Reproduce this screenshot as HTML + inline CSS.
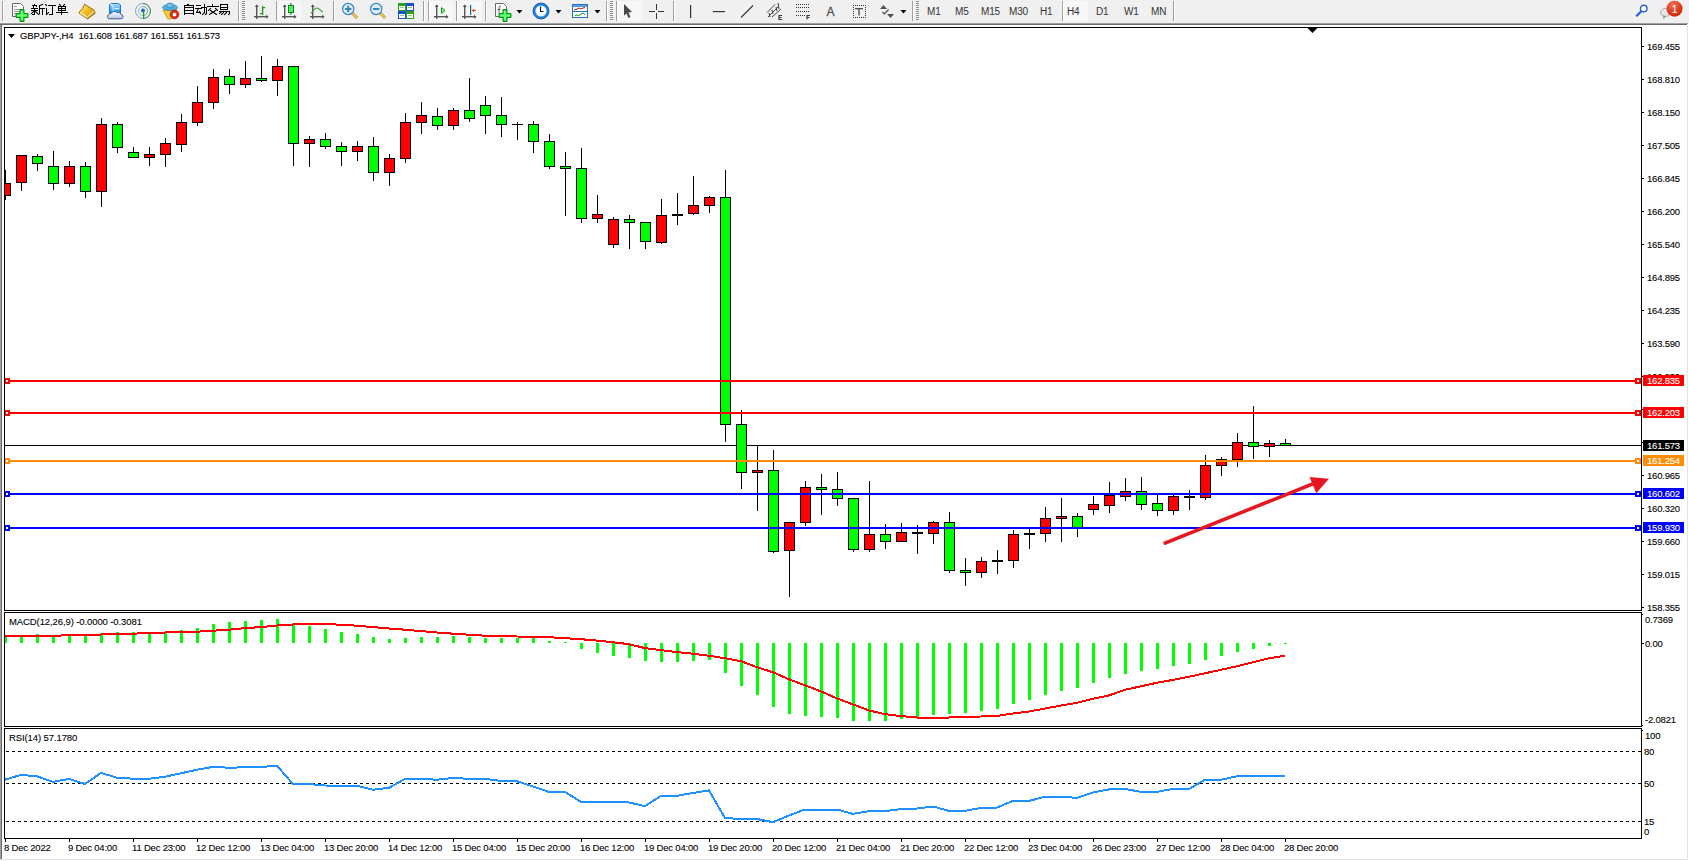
<!DOCTYPE html>
<html><head><meta charset="utf-8"><style>
html,body{margin:0;padding:0;background:#fff;}
body{width:1689px;height:861px;overflow:hidden;position:relative;font-family:"Liberation Sans",sans-serif;}
svg{position:absolute;left:0;top:0;}
svg text{font-family:"Liberation Sans",sans-serif;}
</style></head><body>
<svg width="1689" height="861" viewBox="0 0 1689 861">
<g shape-rendering="crispEdges">
<rect x="0" y="0" width="1689" height="23" fill="#f0f0f0"/>
<rect x="0" y="23" width="1688" height="1" fill="#a0a0a0"/>
<rect x="0" y="24" width="1687" height="1" fill="#696969"/>
<rect x="0" y="25" width="1" height="834" fill="#a0a0a0"/>
<rect x="1" y="25" width="1" height="834" fill="#696969"/>
<rect x="1687" y="25" width="1" height="835" fill="#e3e3e3"/>
<rect x="0" y="859" width="1688" height="1" fill="#e3e3e3"/>
</g>
<g>
<rect x="2" y="1" width="1" height="20" fill="#a0a0a0"/><rect x="3" y="1" width="1" height="20" fill="#ffffff"/>
<path d="M12.5,3.5 h8 l3,3 v10 h-11 z" fill="#fff" stroke="#6a6a6a" stroke-width="1"/>
<rect x="14" y="6" width="3" height="1" fill="#999"/><rect x="14" y="9" width="6" height="1" fill="#999"/><rect x="14" y="11" width="6" height="1" fill="#999"/><rect x="14" y="13" width="3" height="1" fill="#999"/>
<path d="M20,9.5 h4 v4 h4 v4 h-4 v4 h-4 v-4 h-4 v-4 h4 z" fill="#22dd33" stroke="#0a8a1a" stroke-width="1"/>
<rect x="21" y="11" width="2" height="9" fill="#66ff77"/><rect x="17" y="14.5" width="10" height="2" fill="#66ff77"/>
<rect x="34.0" y="4.0" width="1" height="1.0" fill="#000"/><rect x="32.0" y="5.0" width="5.0" height="1" fill="#000"/><rect x="33.0" y="6.0" width="1" height="2.0" fill="#000"/><rect x="36.0" y="6.0" width="1" height="1.0" fill="#000"/><rect x="31.0" y="8.0" width="7.0" height="1" fill="#000"/><rect x="31.0" y="10.0" width="7.0" height="1" fill="#000"/><rect x="34.0" y="8.0" width="1" height="7.0" fill="#000"/><line x1="33.5" y1="11.5" x2="31.5" y2="13.5" stroke="#000" stroke-width="1.1" stroke-linecap="square"/><line x1="35.5" y1="11.5" x2="37.5" y2="13.5" stroke="#000" stroke-width="1.1" stroke-linecap="square"/><rect x="32.0" y="14.0" width="2.0" height="1" fill="#000"/><line x1="42.5" y1="4.5" x2="39.5" y2="5.5" stroke="#000" stroke-width="1.1" stroke-linecap="square"/><rect x="39.0" y="5.0" width="1" height="9.0" fill="#000"/><line x1="39.5" y1="13.5" x2="38.5" y2="14.5" stroke="#000" stroke-width="1.1" stroke-linecap="square"/><rect x="39.0" y="8.0" width="6.0" height="1" fill="#000"/><rect x="42.0" y="8.0" width="1" height="7.0" fill="#000"/>
<line x1="45.5" y1="4.5" x2="46.5" y2="5.5" stroke="#000" stroke-width="1.1" stroke-linecap="square"/><rect x="46.0" y="8.0" width="1" height="6.0" fill="#000"/><line x1="46.5" y1="14.5" x2="48.5" y2="12.5" stroke="#000" stroke-width="1.1" stroke-linecap="square"/><rect x="48.0" y="5.0" width="8.0" height="1" fill="#000"/><rect x="52.0" y="5.0" width="1" height="10.0" fill="#000"/><rect x="49.0" y="14.0" width="3.0" height="1" fill="#000"/>
<line x1="59.5" y1="4.5" x2="60.5" y2="5.5" stroke="#000" stroke-width="1.1" stroke-linecap="square"/><line x1="64.5" y1="4.5" x2="63.5" y2="5.5" stroke="#000" stroke-width="1.1" stroke-linecap="square"/><rect x="58.0" y="6.0" width="8.0" height="1" fill="#000"/><rect x="58.0" y="8.0" width="8.0" height="1" fill="#000"/><rect x="58.0" y="10.0" width="8.0" height="1" fill="#000"/><rect x="58.0" y="6.0" width="1" height="5.0" fill="#000"/><rect x="65.0" y="6.0" width="1" height="5.0" fill="#000"/><rect x="61.0" y="6.0" width="1" height="9.0" fill="#000"/><rect x="56.0" y="12.0" width="12.0" height="1" fill="#000"/>
<defs><linearGradient id="bkg" x1="0" y1="0" x2="1" y2="1"><stop offset="0" stop-color="#fff2a0"/><stop offset="0.45" stop-color="#f0c020"/><stop offset="1" stop-color="#d09010"/></linearGradient><linearGradient id="clg" x1="0" y1="0" x2="0" y2="1"><stop offset="0" stop-color="#ffffff"/><stop offset="1" stop-color="#b8c4dc"/></linearGradient><linearGradient id="bdg" x1="0" y1="0" x2="0" y2="1"><stop offset="0" stop-color="#b0d8ff"/><stop offset="1" stop-color="#0a90f0"/></linearGradient></defs>
<path d="M84.6,4.2 L94.3,10.4 L95.2,13.2 L87.6,18.9 L79,13.1 L79.6,11.6 Q82.8,9.5 84.6,4.2 Z" fill="url(#bkg)" stroke="#9a6408" stroke-width="1"/>
<line x1="80" y1="12.6" x2="87.4" y2="17.4" stroke="#f8e8b0" stroke-width="1.3"/>
<line x1="94.3" y1="11.2" x2="87.6" y2="16.8" stroke="#e8dcb0" stroke-width="1.2"/>
<line x1="94.8" y1="12.6" x2="87.8" y2="18" stroke="#b88a30" stroke-width="0.6"/>
<path d="M109.5,4.5 L111.5,3.5 L118.5,3.5 L120.5,5 L120.5,13 L109.5,13 Z" fill="url(#bdg)" stroke="#1a6ad0" stroke-width="0.9"/>
<line x1="110" y1="4" x2="113" y2="6" stroke="#e8f8ff" stroke-width="0.9"/><rect x="112.6" y="6" width="0.9" height="6.5" fill="#e8f8ff"/><rect x="114.5" y="8" width="4.5" height="1.2" fill="#e8f8ff"/>
<path d="M108.3,18.6 Q106.2,16.5 108.5,14.4 Q109.5,13.4 111,13.6 Q111.8,11.6 114.5,11.4 Q116.3,11.3 117.2,12.8 Q118,11.8 119.4,12.4 Q120.4,13 120.6,14.2 Q123.4,14.6 123,17.2 Q122.6,18.8 120.8,18.8 L109.5,18.8 Q108.8,18.8 108.3,18.6 Z" fill="url(#clg)" stroke="#3a5a98" stroke-width="1"/>
<circle cx="143" cy="11" r="7.5" fill="none" stroke="#7fa6d8" stroke-width="1"/>
<path d="M143,3.5 a7.5,7.5 0 0 1 0,15" fill="none" stroke="#4a9a50" stroke-width="1"/>
<circle cx="143" cy="11" r="4.5" fill="none" stroke="#9ab8e0" stroke-width="1"/>
<path d="M143,6.5 a4.5,4.5 0 0 1 0,9" fill="none" stroke="#7ab880" stroke-width="1"/>
<circle cx="143" cy="10.5" r="2" fill="#2a5fd0"/>
<rect x="143" y="11" width="1.2" height="8" fill="#18a018"/>
<polygon points="163,10 177,10 171,19 168,19" fill="#f0d030" stroke="#c09010" stroke-width="0.8"/>
<ellipse cx="170" cy="7.5" rx="7.5" ry="3" fill="#5ab0e0" stroke="#2a80b0" stroke-width="0.8"/>
<ellipse cx="170" cy="5.5" rx="3.5" ry="2.5" fill="#70c0ea" stroke="#2a80b0" stroke-width="0.8"/>
<circle cx="174.5" cy="14.5" r="4.3" fill="#e02a10" stroke="#b01800" stroke-width="0.8"/>
<rect x="172.8" y="12.8" width="3.4" height="3.4" fill="#fff"/>
<line x1="188.5" y1="4.5" x2="187.5" y2="4.5" stroke="#000" stroke-width="1.1" stroke-linecap="square"/><rect x="184.0" y="5.0" width="10.0" height="1" fill="#000"/><rect x="184.0" y="7.0" width="10.0" height="1" fill="#000"/><rect x="184.0" y="10.0" width="10.0" height="1" fill="#000"/><rect x="184.0" y="13.0" width="10.0" height="1" fill="#000"/><rect x="184.0" y="5.0" width="1" height="10.0" fill="#000"/><rect x="193.0" y="5.0" width="1" height="10.0" fill="#000"/>
<rect x="196.0" y="5.0" width="5.0" height="1" fill="#000"/><rect x="195.0" y="8.0" width="7.0" height="1" fill="#000"/><line x1="198.5" y1="8.5" x2="196.5" y2="12.5" stroke="#000" stroke-width="1.1" stroke-linecap="square"/><rect x="196.0" y="12.0" width="5.0" height="1" fill="#000"/><line x1="199.5" y1="11.5" x2="200.5" y2="13.5" stroke="#000" stroke-width="1.1" stroke-linecap="square"/><rect x="201.0" y="7.0" width="6.0" height="1" fill="#000"/><rect x="204.0" y="4.0" width="1" height="9.0" fill="#000"/><line x1="204.5" y1="12.5" x2="202.5" y2="14.5" stroke="#000" stroke-width="1.1" stroke-linecap="square"/><rect x="206.0" y="7.0" width="1" height="7.0" fill="#000"/><line x1="206.5" y1="13.5" x2="205.5" y2="14.5" stroke="#000" stroke-width="1.1" stroke-linecap="square"/>
<rect x="212.0" y="4.0" width="1" height="2.0" fill="#000"/><rect x="207.0" y="6.0" width="12.0" height="1" fill="#000"/><line x1="210.5" y1="8.5" x2="208.5" y2="10.5" stroke="#000" stroke-width="1.1" stroke-linecap="square"/><line x1="215.5" y1="8.5" x2="217.5" y2="10.5" stroke="#000" stroke-width="1.1" stroke-linecap="square"/><line x1="210.5" y1="10.5" x2="216.5" y2="14.5" stroke="#000" stroke-width="1.1" stroke-linecap="square"/><line x1="215.5" y1="10.5" x2="209.5" y2="14.5" stroke="#000" stroke-width="1.1" stroke-linecap="square"/>
<rect x="220.0" y="4.0" width="8.0" height="1" fill="#000"/><rect x="220.0" y="7.0" width="8.0" height="1" fill="#000"/><rect x="220.0" y="9.0" width="8.0" height="1" fill="#000"/><rect x="220.0" y="4.0" width="1" height="6.0" fill="#000"/><rect x="227.0" y="4.0" width="1" height="6.0" fill="#000"/><rect x="219.0" y="11.0" width="11.0" height="1" fill="#000"/><line x1="221.5" y1="11.5" x2="219.5" y2="13.5" stroke="#000" stroke-width="1.1" stroke-linecap="square"/><rect x="229.0" y="11.0" width="1" height="3.0" fill="#000"/><line x1="229.5" y1="13.5" x2="228.5" y2="14.5" stroke="#000" stroke-width="1.1" stroke-linecap="square"/><line x1="223.5" y1="12.5" x2="221.5" y2="14.5" stroke="#000" stroke-width="1.1" stroke-linecap="square"/><line x1="226.5" y1="12.5" x2="224.5" y2="14.5" stroke="#000" stroke-width="1.1" stroke-linecap="square"/>
<rect x="238" y="1" width="1" height="20" fill="#a0a0a0"/><rect x="239" y="1" width="1" height="20" fill="#ffffff"/>
<rect x="242" y="1" width="3" height="1" fill="#909090"/>
<rect x="242" y="3" width="3" height="1" fill="#909090"/>
<rect x="242" y="5" width="3" height="1" fill="#909090"/>
<rect x="242" y="7" width="3" height="1" fill="#909090"/>
<rect x="242" y="9" width="3" height="1" fill="#909090"/>
<rect x="242" y="11" width="3" height="1" fill="#909090"/>
<rect x="242" y="13" width="3" height="1" fill="#909090"/>
<rect x="242" y="15" width="3" height="1" fill="#909090"/>
<rect x="242" y="17" width="3" height="1" fill="#909090"/>
<rect x="242" y="19" width="3" height="1" fill="#909090"/>
<rect x="256" y="5" width="1.4" height="14" fill="#555"/>
<rect x="254" y="16" width="14" height="1.4" fill="#555"/>
<polygon points="254.7,7 256.7,4.5 258.7,7" fill="#555"/>
<polygon points="266,14.7 268.5,16.7 266,18.7" fill="#555"/>
<rect x="262" y="6" width="1.3" height="9" fill="#10a010"/><rect x="260" y="13" width="2" height="1.2" fill="#10a010"/><rect x="263" y="7" width="2.2" height="1.2" fill="#10a010"/>
<rect x="276" y="1" width="1" height="20" fill="#a0a0a0"/><rect x="277" y="1" width="1" height="20" fill="#ffffff"/>
<rect x="277" y="1" width="24" height="20" fill="#f7f7f7"/>
<rect x="284" y="5" width="1.4" height="14" fill="#555"/>
<rect x="282" y="16" width="14" height="1.4" fill="#555"/>
<polygon points="282.7,7 284.7,4.5 286.7,7" fill="#555"/>
<polygon points="294,14.7 296.5,16.7 294,18.7" fill="#555"/>
<rect x="290.3" y="3" width="1.2" height="12" fill="#0a8a1a"/>
<rect x="288.5" y="5.5" width="5" height="7" fill="#4ef060" stroke="#0a8a1a" stroke-width="1"/>
<rect x="312" y="5" width="1.4" height="14" fill="#555"/>
<rect x="310" y="16" width="14" height="1.4" fill="#555"/>
<polygon points="310.7,7 312.7,4.5 314.7,7" fill="#555"/>
<polygon points="322,14.7 324.5,16.7 322,18.7" fill="#555"/>
<path d="M311,13.5 C313,10.5 315,8 317,8 C319,8 320.5,11 323,12" fill="none" stroke="#30a030" stroke-width="1.1"/>
<rect x="333" y="1" width="1" height="20" fill="#a0a0a0"/><rect x="334" y="1" width="1" height="20" fill="#ffffff"/>
<line x1="351.7" y1="12.5" x2="357.2" y2="18" stroke="#b08a20" stroke-width="3"/>
<line x1="351.7" y1="12.5" x2="357.2" y2="18" stroke="#f0d860" stroke-width="1.5"/>
<circle cx="348.2" cy="9" r="5.6" fill="#d8eefa" stroke="#3a80c8" stroke-width="1.2"/>
<rect x="345.0" y="8" width="6.4" height="2" fill="#3a88b0"/>
<rect x="347.2" y="5.8" width="2" height="6.4" fill="#3a88b0"/>
<line x1="379.7" y1="12.5" x2="385.2" y2="18" stroke="#b08a20" stroke-width="3"/>
<line x1="379.7" y1="12.5" x2="385.2" y2="18" stroke="#f0d860" stroke-width="1.5"/>
<circle cx="376.2" cy="9" r="5.6" fill="#d8eefa" stroke="#3a80c8" stroke-width="1.2"/>
<rect x="373.0" y="8" width="6.4" height="2" fill="#3a88b0"/>
<rect x="398" y="3" width="8" height="8" fill="#2aa020"/><rect x="399" y="6" width="6" height="4" fill="#fff"/><rect x="400" y="7" width="4" height="1" fill="#8c8"/>
<rect x="406" y="3" width="8" height="8" fill="#1a50d0"/><rect x="407" y="6" width="6" height="4" fill="#fff"/><rect x="408" y="7" width="4" height="1" fill="#8c8"/>
<rect x="398" y="11" width="8" height="8" fill="#1a50d0"/><rect x="399" y="14" width="6" height="4" fill="#fff"/><rect x="400" y="15" width="4" height="1" fill="#8c8"/>
<rect x="406" y="11" width="8" height="8" fill="#2aa020"/><rect x="407" y="14" width="6" height="4" fill="#fff"/><rect x="408" y="15" width="4" height="1" fill="#8c8"/>
<rect x="423" y="1" width="1" height="20" fill="#a0a0a0"/><rect x="424" y="1" width="1" height="20" fill="#ffffff"/>
<rect x="428" y="1" width="1" height="20" fill="#a0a0a0"/><rect x="429" y="1" width="1" height="20" fill="#ffffff"/>
<rect x="430" y="1" width="23" height="20" fill="#f7f7f7"/>
<rect x="436" y="5" width="1.4" height="14" fill="#555"/>
<rect x="434" y="16" width="14" height="1.4" fill="#555"/>
<polygon points="434.7,7 436.7,4.5 438.7,7" fill="#555"/>
<polygon points="446,14.7 448.5,16.7 446,18.7" fill="#555"/>
<polygon points="441.5,7.5 445,10.5 441.5,13.5" fill="#8ef090" stroke="#10a010" stroke-width="1"/>
<rect x="456" y="1" width="1" height="20" fill="#a0a0a0"/><rect x="457" y="1" width="1" height="20" fill="#ffffff"/>
<rect x="458" y="1" width="24" height="20" fill="#f7f7f7"/>
<rect x="464" y="5" width="1.4" height="14" fill="#555"/>
<rect x="462" y="16" width="14" height="1.4" fill="#555"/>
<polygon points="462.7,7 464.7,4.5 466.7,7" fill="#555"/>
<polygon points="474,14.7 476.5,16.7 474,18.7" fill="#555"/>
<rect x="470" y="5" width="1.2" height="10" fill="#1a6aa0"/>
<polygon points="471.5,10.5 474.5,8.5 474,10 476,10 476,11 474,11 474.5,12.5" fill="#e05010"/>
<rect x="485" y="1" width="1" height="20" fill="#a0a0a0"/><rect x="486" y="1" width="1" height="20" fill="#ffffff"/>
<path d="M495.5,3.5 h8 l3,3 v10 h-11 z" fill="#fff" stroke="#6a6a6a" stroke-width="1"/>
<path d="M499,13 v-5 q0,-2 2,-2" fill="none" stroke="#555" stroke-width="0.9"/><rect x="497.5" y="9" width="3" height="0.9" fill="#555"/>
<path d="M503,9.5 h4 v4 h4 v4 h-4 v4 h-4 v-4 h-4 v-4 h4 z" fill="#22dd33" stroke="#0a8a1a" stroke-width="1"/>
<rect x="504" y="11" width="2" height="9" fill="#66ff77"/><rect x="500" y="14.5" width="10" height="2" fill="#66ff77"/>
<polygon points="516.5,10 522.5,10 519.5,13.5" fill="#000"/>
<circle cx="541" cy="11" r="6.8" fill="#fff" stroke="#1a80e0" stroke-width="2.4"/>
<circle cx="541" cy="11" r="8" fill="none" stroke="#0a50b0" stroke-width="0.8"/>
<circle cx="541" cy="11" r="5.5" fill="none" stroke="#6ab0f0" stroke-width="0.5"/>
<path d="M540.5,6.5 v5 h3" fill="none" stroke="#111" stroke-width="1.1"/>
<polygon points="555.5,10 561.5,10 558.5,13.5" fill="#000"/>
<rect x="572.5" y="4.5" width="15" height="13" fill="#fff" stroke="#2a70c0" stroke-width="1"/>
<rect x="573" y="5" width="14" height="2" fill="#5a9ae0"/><rect x="573" y="11" width="14" height="1" fill="#2a70c0"/>
<path d="M574,10 l3,-1 l2,-1 l2,1 l2,-1 l2,-0.5" fill="none" stroke="#a02010" stroke-width="1"/>
<path d="M575,15.5 l2,-0.5 l2,0.5 l2,-1.5 l2,-1 l2,2" fill="none" stroke="#109010" stroke-width="1"/>
<polygon points="594.5,10 600.5,10 597.5,13.5" fill="#000"/>
<rect x="606" y="1" width="1" height="20" fill="#a0a0a0"/><rect x="607" y="1" width="1" height="20" fill="#ffffff"/>
<rect x="610" y="1" width="3" height="1" fill="#909090"/>
<rect x="610" y="3" width="3" height="1" fill="#909090"/>
<rect x="610" y="5" width="3" height="1" fill="#909090"/>
<rect x="610" y="7" width="3" height="1" fill="#909090"/>
<rect x="610" y="9" width="3" height="1" fill="#909090"/>
<rect x="610" y="11" width="3" height="1" fill="#909090"/>
<rect x="610" y="13" width="3" height="1" fill="#909090"/>
<rect x="610" y="15" width="3" height="1" fill="#909090"/>
<rect x="610" y="17" width="3" height="1" fill="#909090"/>
<rect x="610" y="19" width="3" height="1" fill="#909090"/>
<rect x="616" y="1" width="1" height="20" fill="#a0a0a0"/><rect x="617" y="1" width="1" height="20" fill="#ffffff"/>
<rect x="618" y="1" width="24" height="20" fill="#f7f7f7"/>
<polygon points="624,4 624,15.5 626.5,13.5 628.5,18 630.5,17 628.5,12.5 632,12" fill="#484848"/>
<rect x="656" y="4" width="1" height="6" fill="#333"/><rect x="656" y="13" width="1" height="6" fill="#333"/><rect x="649" y="11" width="6" height="1" fill="#333"/><rect x="658" y="11" width="6" height="1" fill="#333"/>
<rect x="673" y="1" width="1" height="20" fill="#a0a0a0"/><rect x="674" y="1" width="1" height="20" fill="#ffffff"/>
<rect x="690" y="5" width="1.2" height="13" fill="#333"/>
<rect x="713" y="11" width="12" height="1.2" fill="#333"/>
<line x1="741" y1="17.5" x2="753" y2="5.5" stroke="#333" stroke-width="1.1"/>
<line x1="767" y1="12.5" x2="775" y2="4.5" stroke="#333" stroke-width="0.9"/><line x1="768" y1="17" x2="779" y2="6" stroke="#333" stroke-width="0.9"/><line x1="772" y1="17" x2="781" y2="9" stroke="#333" stroke-width="0.9"/>
<line x1="769" y1="13" x2="770" y2="17" stroke="#333" stroke-width="1"/><line x1="772" y1="10" x2="773" y2="14" stroke="#333" stroke-width="1"/><line x1="776" y1="7" x2="777" y2="11" stroke="#333" stroke-width="1"/><line x1="778" y1="3" x2="779" y2="9" stroke="#333" stroke-width="1"/>
<path d="M782,15.5 h-3 v4 h3 M779,17.5 h2.5" fill="none" stroke="#333" stroke-width="1.1"/>
<rect x="796" y="4" width="1" height="1" fill="#333"/>
<rect x="798" y="4" width="1" height="1" fill="#333"/>
<rect x="800" y="4" width="1" height="1" fill="#333"/>
<rect x="802" y="4" width="1" height="1" fill="#333"/>
<rect x="804" y="4" width="1" height="1" fill="#333"/>
<rect x="806" y="4" width="1" height="1" fill="#333"/>
<rect x="808" y="4" width="1" height="1" fill="#333"/>
<rect x="796" y="7" width="1" height="1" fill="#333"/>
<rect x="798" y="7" width="1" height="1" fill="#333"/>
<rect x="800" y="7" width="1" height="1" fill="#333"/>
<rect x="802" y="7" width="1" height="1" fill="#333"/>
<rect x="804" y="7" width="1" height="1" fill="#333"/>
<rect x="806" y="7" width="1" height="1" fill="#333"/>
<rect x="808" y="7" width="1" height="1" fill="#333"/>
<rect x="796" y="11" width="1" height="1" fill="#333"/>
<rect x="798" y="11" width="1" height="1" fill="#333"/>
<rect x="800" y="11" width="1" height="1" fill="#333"/>
<rect x="802" y="11" width="1" height="1" fill="#333"/>
<rect x="804" y="11" width="1" height="1" fill="#333"/>
<rect x="806" y="11" width="1" height="1" fill="#333"/>
<rect x="808" y="11" width="1" height="1" fill="#333"/>
<rect x="796" y="15" width="1" height="1" fill="#333"/>
<rect x="798" y="15" width="1" height="1" fill="#333"/>
<rect x="800" y="15" width="1" height="1" fill="#333"/>
<rect x="802" y="15" width="1" height="1" fill="#333"/>
<rect x="804" y="15" width="1" height="1" fill="#333"/>
<path d="M810,15.5 h-3 v4 M807,17.5 h2.5" fill="none" stroke="#333" stroke-width="1.1"/>
<text x="826.5" y="16" font-size="12" fill="#505050" stroke="#505050" stroke-width="0.3" font-family="Liberation Sans">A</text>
<rect x="853" y="5" width="1" height="1" fill="#333"/><rect x="853" y="17" width="1" height="1" fill="#333"/>
<rect x="855" y="5" width="1" height="1" fill="#333"/><rect x="855" y="17" width="1" height="1" fill="#333"/>
<rect x="857" y="5" width="1" height="1" fill="#333"/><rect x="857" y="17" width="1" height="1" fill="#333"/>
<rect x="859" y="5" width="1" height="1" fill="#333"/><rect x="859" y="17" width="1" height="1" fill="#333"/>
<rect x="861" y="5" width="1" height="1" fill="#333"/><rect x="861" y="17" width="1" height="1" fill="#333"/>
<rect x="863" y="5" width="1" height="1" fill="#333"/><rect x="863" y="17" width="1" height="1" fill="#333"/>
<rect x="865" y="5" width="1" height="1" fill="#333"/><rect x="865" y="17" width="1" height="1" fill="#333"/>
<rect x="853" y="5" width="1" height="1" fill="#333"/><rect x="865" y="5" width="1" height="1" fill="#333"/>
<rect x="853" y="7" width="1" height="1" fill="#333"/><rect x="865" y="7" width="1" height="1" fill="#333"/>
<rect x="853" y="9" width="1" height="1" fill="#333"/><rect x="865" y="9" width="1" height="1" fill="#333"/>
<rect x="853" y="11" width="1" height="1" fill="#333"/><rect x="865" y="11" width="1" height="1" fill="#333"/>
<rect x="853" y="13" width="1" height="1" fill="#333"/><rect x="865" y="13" width="1" height="1" fill="#333"/>
<rect x="853" y="15" width="1" height="1" fill="#333"/><rect x="865" y="15" width="1" height="1" fill="#333"/>
<rect x="853" y="17" width="1" height="1" fill="#333"/><rect x="865" y="17" width="1" height="1" fill="#333"/>
<rect x="855" y="8" width="8" height="1.3" fill="#505050"/><rect x="858.3" y="8" width="1.4" height="7.5" fill="#505050"/>
<polygon points="880,9 883.5,5 887,9" fill="#505050"/><polygon points="887,14 894,14 890.5,18" fill="#505050"/>
<path d="M882.5,12 l2,2 l4,-4.5" fill="none" stroke="#505050" stroke-width="1.2"/>
<polygon points="900.5,10 906.5,10 903.5,13.5" fill="#000"/>
<rect x="912" y="1" width="1" height="20" fill="#a0a0a0"/><rect x="913" y="1" width="1" height="20" fill="#ffffff"/>
<rect x="916" y="1" width="3" height="1" fill="#909090"/>
<rect x="916" y="3" width="3" height="1" fill="#909090"/>
<rect x="916" y="5" width="3" height="1" fill="#909090"/>
<rect x="916" y="7" width="3" height="1" fill="#909090"/>
<rect x="916" y="9" width="3" height="1" fill="#909090"/>
<rect x="916" y="11" width="3" height="1" fill="#909090"/>
<rect x="916" y="13" width="3" height="1" fill="#909090"/>
<rect x="916" y="15" width="3" height="1" fill="#909090"/>
<rect x="916" y="17" width="3" height="1" fill="#909090"/>
<rect x="916" y="19" width="3" height="1" fill="#909090"/>
<text x="927" y="15" font-size="10" fill="#333" font-family="Liberation Sans" letter-spacing="-0.2">M1</text>
<text x="955" y="15" font-size="10" fill="#333" font-family="Liberation Sans" letter-spacing="-0.2">M5</text>
<text x="981" y="15" font-size="10" fill="#333" font-family="Liberation Sans" letter-spacing="-0.2">M15</text>
<text x="1009" y="15" font-size="10" fill="#333" font-family="Liberation Sans" letter-spacing="-0.2">M30</text>
<text x="1040" y="15" font-size="10" fill="#333" font-family="Liberation Sans" letter-spacing="-0.2">H1</text>
<rect x="1062" y="1" width="1" height="20" fill="#a0a0a0"/><rect x="1063" y="1" width="1" height="20" fill="#ffffff"/>
<rect x="1064" y="1" width="24" height="20" fill="#f7f7f7"/>
<text x="1067" y="15" font-size="10" fill="#333" font-family="Liberation Sans" letter-spacing="-0.2">H4</text>
<text x="1096" y="15" font-size="10" fill="#333" font-family="Liberation Sans" letter-spacing="-0.2">D1</text>
<text x="1124" y="15" font-size="10" fill="#333" font-family="Liberation Sans" letter-spacing="-0.2">W1</text>
<text x="1151" y="15" font-size="10" fill="#333" font-family="Liberation Sans" letter-spacing="-0.2">MN</text>
<rect x="1173" y="1" width="1" height="20" fill="#a0a0a0"/><rect x="1174" y="1" width="1" height="20" fill="#ffffff"/>
<circle cx="1643.7" cy="8.5" r="3.3" fill="#fff" stroke="#2a62d0" stroke-width="1.4"/>
<line x1="1641.5" y1="11" x2="1636.3" y2="16.2" stroke="#2a62d0" stroke-width="2.3"/>
<ellipse cx="1665.5" cy="12.5" rx="5" ry="4" fill="#e4e6ee" stroke="#aaa" stroke-width="1"/>
<polygon points="1663,15.5 1663.5,19.5 1666,16" fill="#999"/>
<defs><radialGradient id="bdgr" cx="0.4" cy="0.25" r="0.8"><stop offset="0" stop-color="#f07050"/><stop offset="1" stop-color="#d01e00"/></radialGradient></defs><circle cx="1674.5" cy="8.7" r="8" fill="url(#bdgr)"/>
<text x="1674.5" y="13" font-size="11" fill="#fff" font-family="Liberation Serif" text-anchor="middle">1</text>
</g>
<g shape-rendering="crispEdges">
<rect x="5" y="445" width="1636" height="1" fill="#000"/>
<clipPath id="cm"><rect x="5" y="28" width="1636" height="582"/></clipPath>
<g clip-path="url(#cm)">
<rect x="5" y="170" width="1" height="30" fill="#000"/>
<rect x="0" y="183" width="11" height="13" fill="#000"/>
<rect x="1" y="184" width="9" height="11" fill="#ff0000"/>
<rect x="21" y="155" width="1" height="36" fill="#000"/>
<rect x="16" y="155" width="11" height="28" fill="#000"/>
<rect x="17" y="156" width="9" height="26" fill="#ff0000"/>
<rect x="37" y="154" width="1" height="17" fill="#000"/>
<rect x="32" y="156" width="11" height="8" fill="#000"/>
<rect x="33" y="157" width="9" height="6" fill="#00ff00"/>
<rect x="53" y="151" width="1" height="39" fill="#000"/>
<rect x="48" y="166" width="11" height="18" fill="#000"/>
<rect x="49" y="167" width="9" height="16" fill="#00ff00"/>
<rect x="69" y="161" width="1" height="26" fill="#000"/>
<rect x="64" y="166" width="11" height="18" fill="#000"/>
<rect x="65" y="167" width="9" height="16" fill="#ff0000"/>
<rect x="85" y="162" width="1" height="36" fill="#000"/>
<rect x="80" y="166" width="11" height="26" fill="#000"/>
<rect x="81" y="167" width="9" height="24" fill="#00ff00"/>
<rect x="101" y="118" width="1" height="89" fill="#000"/>
<rect x="96" y="124" width="11" height="68" fill="#000"/>
<rect x="97" y="125" width="9" height="66" fill="#ff0000"/>
<rect x="117" y="122" width="1" height="31" fill="#000"/>
<rect x="112" y="124" width="11" height="24" fill="#000"/>
<rect x="113" y="125" width="9" height="22" fill="#00ff00"/>
<rect x="133" y="147" width="1" height="11" fill="#000"/>
<rect x="128" y="152" width="11" height="6" fill="#000"/>
<rect x="129" y="153" width="9" height="4" fill="#00ff00"/>
<rect x="149" y="147" width="1" height="19" fill="#000"/>
<rect x="144" y="154" width="11" height="4" fill="#000"/>
<rect x="145" y="155" width="9" height="2" fill="#ff0000"/>
<rect x="165" y="138" width="1" height="29" fill="#000"/>
<rect x="160" y="143" width="11" height="12" fill="#000"/>
<rect x="161" y="144" width="9" height="10" fill="#ff0000"/>
<rect x="181" y="114" width="1" height="38" fill="#000"/>
<rect x="176" y="122" width="11" height="23" fill="#000"/>
<rect x="177" y="123" width="9" height="21" fill="#ff0000"/>
<rect x="197" y="86" width="1" height="40" fill="#000"/>
<rect x="192" y="102" width="11" height="21" fill="#000"/>
<rect x="193" y="103" width="9" height="19" fill="#ff0000"/>
<rect x="213" y="69" width="1" height="40" fill="#000"/>
<rect x="208" y="77" width="11" height="26" fill="#000"/>
<rect x="209" y="78" width="9" height="24" fill="#ff0000"/>
<rect x="229" y="69" width="1" height="25" fill="#000"/>
<rect x="224" y="76" width="11" height="9" fill="#000"/>
<rect x="225" y="77" width="9" height="7" fill="#00ff00"/>
<rect x="245" y="61" width="1" height="27" fill="#000"/>
<rect x="240" y="78" width="11" height="7" fill="#000"/>
<rect x="241" y="79" width="9" height="5" fill="#ff0000"/>
<rect x="261" y="56" width="1" height="26" fill="#000"/>
<rect x="256" y="78" width="11" height="3" fill="#000"/>
<rect x="257" y="79" width="9" height="1" fill="#00ff00"/>
<rect x="277" y="59" width="1" height="37" fill="#000"/>
<rect x="272" y="66" width="11" height="15" fill="#000"/>
<rect x="273" y="67" width="9" height="13" fill="#ff0000"/>
<rect x="293" y="66" width="1" height="100" fill="#000"/>
<rect x="288" y="66" width="11" height="78" fill="#000"/>
<rect x="289" y="67" width="9" height="76" fill="#00ff00"/>
<rect x="309" y="136" width="1" height="31" fill="#000"/>
<rect x="304" y="139" width="11" height="5" fill="#000"/>
<rect x="305" y="140" width="9" height="3" fill="#ff0000"/>
<rect x="325" y="133" width="1" height="16" fill="#000"/>
<rect x="320" y="139" width="11" height="8" fill="#000"/>
<rect x="321" y="140" width="9" height="6" fill="#00ff00"/>
<rect x="341" y="142" width="1" height="24" fill="#000"/>
<rect x="336" y="146" width="11" height="6" fill="#000"/>
<rect x="337" y="147" width="9" height="4" fill="#00ff00"/>
<rect x="357" y="141" width="1" height="20" fill="#000"/>
<rect x="352" y="146" width="11" height="6" fill="#000"/>
<rect x="353" y="147" width="9" height="4" fill="#ff0000"/>
<rect x="373" y="137" width="1" height="44" fill="#000"/>
<rect x="368" y="146" width="11" height="27" fill="#000"/>
<rect x="369" y="147" width="9" height="25" fill="#00ff00"/>
<rect x="389" y="154" width="1" height="32" fill="#000"/>
<rect x="384" y="158" width="11" height="15" fill="#000"/>
<rect x="385" y="159" width="9" height="13" fill="#ff0000"/>
<rect x="405" y="113" width="1" height="50" fill="#000"/>
<rect x="400" y="122" width="11" height="37" fill="#000"/>
<rect x="401" y="123" width="9" height="35" fill="#ff0000"/>
<rect x="421" y="102" width="1" height="32" fill="#000"/>
<rect x="416" y="115" width="11" height="8" fill="#000"/>
<rect x="417" y="116" width="9" height="6" fill="#ff0000"/>
<rect x="437" y="108" width="1" height="22" fill="#000"/>
<rect x="432" y="116" width="11" height="10" fill="#000"/>
<rect x="433" y="117" width="9" height="8" fill="#00ff00"/>
<rect x="453" y="108" width="1" height="22" fill="#000"/>
<rect x="448" y="110" width="11" height="16" fill="#000"/>
<rect x="449" y="111" width="9" height="14" fill="#ff0000"/>
<rect x="469" y="78" width="1" height="44" fill="#000"/>
<rect x="464" y="110" width="11" height="9" fill="#000"/>
<rect x="465" y="111" width="9" height="7" fill="#00ff00"/>
<rect x="485" y="96" width="1" height="38" fill="#000"/>
<rect x="480" y="105" width="11" height="11" fill="#000"/>
<rect x="481" y="106" width="9" height="9" fill="#00ff00"/>
<rect x="501" y="97" width="1" height="40" fill="#000"/>
<rect x="496" y="115" width="11" height="10" fill="#000"/>
<rect x="497" y="116" width="9" height="8" fill="#00ff00"/>
<rect x="517" y="122" width="1" height="18" fill="#000"/>
<rect x="512" y="124" width="11" height="1" fill="#000"/>
<rect x="533" y="121" width="1" height="32" fill="#000"/>
<rect x="528" y="124" width="11" height="18" fill="#000"/>
<rect x="529" y="125" width="9" height="16" fill="#00ff00"/>
<rect x="549" y="134" width="1" height="35" fill="#000"/>
<rect x="544" y="141" width="11" height="26" fill="#000"/>
<rect x="545" y="142" width="9" height="24" fill="#00ff00"/>
<rect x="565" y="152" width="1" height="64" fill="#000"/>
<rect x="560" y="166" width="11" height="3" fill="#000"/>
<rect x="561" y="167" width="9" height="1" fill="#00ff00"/>
<rect x="581" y="148" width="1" height="75" fill="#000"/>
<rect x="576" y="168" width="11" height="51" fill="#000"/>
<rect x="577" y="169" width="9" height="49" fill="#00ff00"/>
<rect x="597" y="195" width="1" height="28" fill="#000"/>
<rect x="592" y="214" width="11" height="5" fill="#000"/>
<rect x="593" y="215" width="9" height="3" fill="#ff0000"/>
<rect x="613" y="217" width="1" height="31" fill="#000"/>
<rect x="608" y="219" width="11" height="26" fill="#000"/>
<rect x="609" y="220" width="9" height="24" fill="#ff0000"/>
<rect x="629" y="215" width="1" height="34" fill="#000"/>
<rect x="624" y="219" width="11" height="4" fill="#000"/>
<rect x="625" y="220" width="9" height="2" fill="#00ff00"/>
<rect x="645" y="222" width="1" height="27" fill="#000"/>
<rect x="640" y="222" width="11" height="20" fill="#000"/>
<rect x="641" y="223" width="9" height="18" fill="#00ff00"/>
<rect x="661" y="199" width="1" height="45" fill="#000"/>
<rect x="656" y="215" width="11" height="28" fill="#000"/>
<rect x="657" y="216" width="9" height="26" fill="#ff0000"/>
<rect x="677" y="193" width="1" height="32" fill="#000"/>
<rect x="672" y="214" width="11" height="2" fill="#000"/>
<rect x="693" y="176" width="1" height="39" fill="#000"/>
<rect x="688" y="205" width="11" height="9" fill="#000"/>
<rect x="689" y="206" width="9" height="7" fill="#ff0000"/>
<rect x="709" y="196" width="1" height="17" fill="#000"/>
<rect x="704" y="197" width="11" height="9" fill="#000"/>
<rect x="705" y="198" width="9" height="7" fill="#ff0000"/>
<rect x="725" y="170" width="1" height="272" fill="#000"/>
<rect x="720" y="197" width="11" height="228" fill="#000"/>
<rect x="721" y="198" width="9" height="226" fill="#00ff00"/>
<rect x="741" y="410" width="1" height="79" fill="#000"/>
<rect x="736" y="424" width="11" height="49" fill="#000"/>
<rect x="737" y="425" width="9" height="47" fill="#00ff00"/>
<rect x="757" y="445" width="1" height="66" fill="#000"/>
<rect x="752" y="470" width="11" height="3" fill="#000"/>
<rect x="753" y="471" width="9" height="1" fill="#ff0000"/>
<rect x="773" y="450" width="1" height="103" fill="#000"/>
<rect x="768" y="470" width="11" height="82" fill="#000"/>
<rect x="769" y="471" width="9" height="80" fill="#00ff00"/>
<rect x="789" y="522" width="1" height="75" fill="#000"/>
<rect x="784" y="522" width="11" height="29" fill="#000"/>
<rect x="785" y="523" width="9" height="27" fill="#ff0000"/>
<rect x="805" y="481" width="1" height="45" fill="#000"/>
<rect x="800" y="487" width="11" height="36" fill="#000"/>
<rect x="801" y="488" width="9" height="34" fill="#ff0000"/>
<rect x="821" y="474" width="1" height="41" fill="#000"/>
<rect x="816" y="487" width="11" height="3" fill="#000"/>
<rect x="817" y="488" width="9" height="1" fill="#00ff00"/>
<rect x="837" y="472" width="1" height="34" fill="#000"/>
<rect x="832" y="489" width="11" height="10" fill="#000"/>
<rect x="833" y="490" width="9" height="8" fill="#00ff00"/>
<rect x="853" y="498" width="1" height="54" fill="#000"/>
<rect x="848" y="498" width="11" height="52" fill="#000"/>
<rect x="849" y="499" width="9" height="50" fill="#00ff00"/>
<rect x="869" y="481" width="1" height="71" fill="#000"/>
<rect x="864" y="534" width="11" height="16" fill="#000"/>
<rect x="865" y="535" width="9" height="14" fill="#ff0000"/>
<rect x="885" y="524" width="1" height="25" fill="#000"/>
<rect x="880" y="534" width="11" height="8" fill="#000"/>
<rect x="881" y="535" width="9" height="6" fill="#00ff00"/>
<rect x="901" y="523" width="1" height="19" fill="#000"/>
<rect x="896" y="532" width="11" height="10" fill="#000"/>
<rect x="897" y="533" width="9" height="8" fill="#ff0000"/>
<rect x="917" y="525" width="1" height="29" fill="#000"/>
<rect x="912" y="532" width="11" height="2" fill="#000"/>
<rect x="933" y="521" width="1" height="23" fill="#000"/>
<rect x="928" y="522" width="11" height="12" fill="#000"/>
<rect x="929" y="523" width="9" height="10" fill="#ff0000"/>
<rect x="949" y="512" width="1" height="61" fill="#000"/>
<rect x="944" y="522" width="11" height="49" fill="#000"/>
<rect x="945" y="523" width="9" height="47" fill="#00ff00"/>
<rect x="965" y="558" width="1" height="28" fill="#000"/>
<rect x="960" y="570" width="11" height="3" fill="#000"/>
<rect x="961" y="571" width="9" height="1" fill="#00ff00"/>
<rect x="981" y="557" width="1" height="21" fill="#000"/>
<rect x="976" y="561" width="11" height="12" fill="#000"/>
<rect x="977" y="562" width="9" height="10" fill="#ff0000"/>
<rect x="997" y="550" width="1" height="24" fill="#000"/>
<rect x="992" y="560" width="11" height="2" fill="#000"/>
<rect x="1013" y="530" width="1" height="38" fill="#000"/>
<rect x="1008" y="534" width="11" height="27" fill="#000"/>
<rect x="1009" y="535" width="9" height="25" fill="#ff0000"/>
<rect x="1029" y="529" width="1" height="20" fill="#000"/>
<rect x="1024" y="533" width="11" height="2" fill="#000"/>
<rect x="1045" y="507" width="1" height="35" fill="#000"/>
<rect x="1040" y="518" width="11" height="16" fill="#000"/>
<rect x="1041" y="519" width="9" height="14" fill="#ff0000"/>
<rect x="1061" y="498" width="1" height="44" fill="#000"/>
<rect x="1056" y="516" width="11" height="3" fill="#000"/>
<rect x="1057" y="517" width="9" height="1" fill="#ff0000"/>
<rect x="1077" y="513" width="1" height="24" fill="#000"/>
<rect x="1072" y="516" width="11" height="13" fill="#000"/>
<rect x="1073" y="517" width="9" height="11" fill="#00ff00"/>
<rect x="1093" y="496" width="1" height="19" fill="#000"/>
<rect x="1088" y="504" width="11" height="6" fill="#000"/>
<rect x="1089" y="505" width="9" height="4" fill="#ff0000"/>
<rect x="1109" y="482" width="1" height="31" fill="#000"/>
<rect x="1104" y="495" width="11" height="11" fill="#000"/>
<rect x="1105" y="496" width="9" height="9" fill="#ff0000"/>
<rect x="1125" y="478" width="1" height="23" fill="#000"/>
<rect x="1120" y="491" width="11" height="6" fill="#000"/>
<rect x="1121" y="492" width="9" height="4" fill="#ff0000"/>
<rect x="1141" y="477" width="1" height="33" fill="#000"/>
<rect x="1136" y="491" width="11" height="14" fill="#000"/>
<rect x="1137" y="492" width="9" height="12" fill="#00ff00"/>
<rect x="1157" y="494" width="1" height="22" fill="#000"/>
<rect x="1152" y="503" width="11" height="8" fill="#000"/>
<rect x="1153" y="504" width="9" height="6" fill="#00ff00"/>
<rect x="1173" y="494" width="1" height="21" fill="#000"/>
<rect x="1168" y="496" width="11" height="15" fill="#000"/>
<rect x="1169" y="497" width="9" height="13" fill="#ff0000"/>
<rect x="1189" y="490" width="1" height="20" fill="#000"/>
<rect x="1184" y="496" width="11" height="2" fill="#000"/>
<rect x="1205" y="455" width="1" height="45" fill="#000"/>
<rect x="1200" y="465" width="11" height="33" fill="#000"/>
<rect x="1201" y="466" width="9" height="31" fill="#ff0000"/>
<rect x="1221" y="457" width="1" height="19" fill="#000"/>
<rect x="1216" y="459" width="11" height="7" fill="#000"/>
<rect x="1217" y="460" width="9" height="5" fill="#ff0000"/>
<rect x="1237" y="433" width="1" height="34" fill="#000"/>
<rect x="1232" y="442" width="11" height="18" fill="#000"/>
<rect x="1233" y="443" width="9" height="16" fill="#ff0000"/>
<rect x="1253" y="406" width="1" height="53" fill="#000"/>
<rect x="1248" y="442" width="11" height="5" fill="#000"/>
<rect x="1249" y="443" width="9" height="3" fill="#00ff00"/>
<rect x="1269" y="440" width="1" height="17" fill="#000"/>
<rect x="1264" y="443" width="11" height="4" fill="#000"/>
<rect x="1265" y="444" width="9" height="2" fill="#ff0000"/>
<rect x="1285" y="439" width="1" height="7" fill="#000"/>
<rect x="1280" y="443" width="11" height="3" fill="#000"/>
<rect x="1281" y="444" width="9" height="1" fill="#00ff00"/>
</g>
<rect x="5" y="380" width="1636" height="2" fill="#ff0000"/>
<rect x="4" y="378" width="6" height="6" fill="#ff0000"/>
<rect x="6" y="380" width="2" height="2" fill="#fff"/>
<rect x="1635" y="378" width="6" height="6" fill="#ff0000"/>
<rect x="1637" y="380" width="2" height="2" fill="#fff"/>
<rect x="5" y="412" width="1636" height="2" fill="#ff0000"/>
<rect x="4" y="410" width="6" height="6" fill="#ff0000"/>
<rect x="6" y="412" width="2" height="2" fill="#fff"/>
<rect x="1635" y="410" width="6" height="6" fill="#ff0000"/>
<rect x="1637" y="412" width="2" height="2" fill="#fff"/>
<rect x="5" y="460" width="1636" height="2" fill="#ff8c00"/>
<rect x="4" y="458" width="6" height="6" fill="#ff8c00"/>
<rect x="6" y="460" width="2" height="2" fill="#fff"/>
<rect x="1635" y="458" width="6" height="6" fill="#ff8c00"/>
<rect x="1637" y="460" width="2" height="2" fill="#fff"/>
<rect x="5" y="493" width="1636" height="2" fill="#0000ff"/>
<rect x="4" y="491" width="6" height="6" fill="#0000ff"/>
<rect x="6" y="493" width="2" height="2" fill="#fff"/>
<rect x="1635" y="491" width="6" height="6" fill="#0000ff"/>
<rect x="1637" y="493" width="2" height="2" fill="#fff"/>
<rect x="5" y="527" width="1636" height="2" fill="#0000ff"/>
<rect x="4" y="525" width="6" height="6" fill="#0000ff"/>
<rect x="6" y="527" width="2" height="2" fill="#fff"/>
<rect x="1635" y="525" width="6" height="6" fill="#0000ff"/>
<rect x="1637" y="527" width="2" height="2" fill="#fff"/>
</g>
<g fill="#e8171f" stroke="none">
<polygon points="1163,542 1164.5,545.2 1313.5,485.5 1312,482.3"/>
<polygon points="1329,478.8 1309.5,477 1316.3,493.3"/>
</g>
<g shape-rendering="crispEdges">
<rect x="4" y="636" width="3" height="7" fill="#00ff00"/>
<rect x="20" y="636" width="3" height="7" fill="#00ff00"/>
<rect x="36" y="634" width="3" height="9" fill="#00ff00"/>
<rect x="52" y="636" width="3" height="7" fill="#00ff00"/>
<rect x="68" y="636" width="3" height="7" fill="#00ff00"/>
<rect x="84" y="636" width="3" height="7" fill="#00ff00"/>
<rect x="100" y="633" width="3" height="10" fill="#00ff00"/>
<rect x="116" y="632" width="3" height="11" fill="#00ff00"/>
<rect x="132" y="632" width="3" height="11" fill="#00ff00"/>
<rect x="148" y="632" width="3" height="11" fill="#00ff00"/>
<rect x="164" y="632" width="3" height="11" fill="#00ff00"/>
<rect x="180" y="630" width="3" height="13" fill="#00ff00"/>
<rect x="196" y="628" width="3" height="15" fill="#00ff00"/>
<rect x="212" y="624" width="3" height="19" fill="#00ff00"/>
<rect x="228" y="622" width="3" height="21" fill="#00ff00"/>
<rect x="244" y="621" width="3" height="22" fill="#00ff00"/>
<rect x="260" y="620" width="3" height="23" fill="#00ff00"/>
<rect x="276" y="619" width="3" height="24" fill="#00ff00"/>
<rect x="292" y="623" width="3" height="20" fill="#00ff00"/>
<rect x="308" y="626" width="3" height="17" fill="#00ff00"/>
<rect x="324" y="629" width="3" height="14" fill="#00ff00"/>
<rect x="340" y="632" width="3" height="11" fill="#00ff00"/>
<rect x="356" y="634" width="3" height="9" fill="#00ff00"/>
<rect x="372" y="637" width="3" height="6" fill="#00ff00"/>
<rect x="388" y="639" width="3" height="4" fill="#00ff00"/>
<rect x="404" y="638" width="3" height="5" fill="#00ff00"/>
<rect x="420" y="637" width="3" height="6" fill="#00ff00"/>
<rect x="436" y="637" width="3" height="6" fill="#00ff00"/>
<rect x="452" y="636" width="3" height="7" fill="#00ff00"/>
<rect x="468" y="637" width="3" height="6" fill="#00ff00"/>
<rect x="484" y="638" width="3" height="5" fill="#00ff00"/>
<rect x="500" y="638" width="3" height="5" fill="#00ff00"/>
<rect x="516" y="638" width="3" height="5" fill="#00ff00"/>
<rect x="532" y="638" width="3" height="5" fill="#00ff00"/>
<rect x="548" y="641" width="3" height="2" fill="#00ff00"/>
<rect x="564" y="642" width="3" height="1" fill="#00ff00"/>
<rect x="580" y="643" width="3" height="6" fill="#00ff00"/>
<rect x="596" y="643" width="3" height="10" fill="#00ff00"/>
<rect x="612" y="643" width="3" height="13" fill="#00ff00"/>
<rect x="628" y="643" width="3" height="15" fill="#00ff00"/>
<rect x="644" y="643" width="3" height="18" fill="#00ff00"/>
<rect x="660" y="643" width="3" height="19" fill="#00ff00"/>
<rect x="676" y="643" width="3" height="19" fill="#00ff00"/>
<rect x="692" y="643" width="3" height="18" fill="#00ff00"/>
<rect x="708" y="643" width="3" height="17" fill="#00ff00"/>
<rect x="724" y="643" width="3" height="30" fill="#00ff00"/>
<rect x="740" y="643" width="3" height="43" fill="#00ff00"/>
<rect x="756" y="643" width="3" height="52" fill="#00ff00"/>
<rect x="772" y="643" width="3" height="64" fill="#00ff00"/>
<rect x="788" y="643" width="3" height="71" fill="#00ff00"/>
<rect x="804" y="643" width="3" height="73" fill="#00ff00"/>
<rect x="820" y="643" width="3" height="74" fill="#00ff00"/>
<rect x="836" y="643" width="3" height="75" fill="#00ff00"/>
<rect x="852" y="643" width="3" height="78" fill="#00ff00"/>
<rect x="868" y="643" width="3" height="78" fill="#00ff00"/>
<rect x="884" y="643" width="3" height="78" fill="#00ff00"/>
<rect x="900" y="643" width="3" height="76" fill="#00ff00"/>
<rect x="916" y="643" width="3" height="74" fill="#00ff00"/>
<rect x="932" y="643" width="3" height="72" fill="#00ff00"/>
<rect x="948" y="643" width="3" height="71" fill="#00ff00"/>
<rect x="964" y="643" width="3" height="70" fill="#00ff00"/>
<rect x="980" y="643" width="3" height="68" fill="#00ff00"/>
<rect x="996" y="643" width="3" height="66" fill="#00ff00"/>
<rect x="1012" y="643" width="3" height="61" fill="#00ff00"/>
<rect x="1028" y="643" width="3" height="57" fill="#00ff00"/>
<rect x="1044" y="643" width="3" height="52" fill="#00ff00"/>
<rect x="1060" y="643" width="3" height="48" fill="#00ff00"/>
<rect x="1076" y="643" width="3" height="45" fill="#00ff00"/>
<rect x="1092" y="643" width="3" height="40" fill="#00ff00"/>
<rect x="1108" y="643" width="3" height="35" fill="#00ff00"/>
<rect x="1124" y="643" width="3" height="31" fill="#00ff00"/>
<rect x="1140" y="643" width="3" height="28" fill="#00ff00"/>
<rect x="1156" y="643" width="3" height="26" fill="#00ff00"/>
<rect x="1172" y="643" width="3" height="23" fill="#00ff00"/>
<rect x="1188" y="643" width="3" height="21" fill="#00ff00"/>
<rect x="1204" y="643" width="3" height="17" fill="#00ff00"/>
<rect x="1220" y="643" width="3" height="13" fill="#00ff00"/>
<rect x="1236" y="643" width="3" height="9" fill="#00ff00"/>
<rect x="1252" y="643" width="3" height="6" fill="#00ff00"/>
<rect x="1268" y="643" width="3" height="3" fill="#00ff00"/>
<rect x="1284" y="643" width="3" height="1" fill="#00ff00"/>
<polyline points="5,636.0 21,636.0 37,636.0 53,636.0 69,635.0 85,635.0 101,634.5 117,634.0 133,633.7 149,633.0 165,632.5 181,632.1 197,631.7 213,630.7 229,629.7 245,628.1 261,627.1 277,625.5 293,624.5 309,623.7 325,624.1 341,624.7 357,625.7 373,627.1 389,628.5 405,629.7 421,631.1 437,632.5 453,633.7 469,634.7 485,635.7 501,636.1 517,636.5 533,636.7 549,637.2 565,638.2 581,639.2 597,640.6 613,642.2 629,644.2 645,648.1 661,650.1 677,652.1 693,653.7 709,655.8 725,658.2 741,661.2 757,667.2 773,672.3 789,679.3 805,685.3 821,691.4 837,698.4 853,704.4 869,710.5 885,714.1 901,716.1 917,717.5 933,717.5 949,717.5 965,716.9 981,716.5 997,715.9 1013,713.5 1029,711.5 1045,708.5 1061,705.5 1077,702.8 1093,698.8 1109,695.4 1125,689.8 1141,686.3 1157,682.7 1173,679.9 1189,676.7 1205,673.3 1221,669.8 1237,666.2 1253,662.2 1269,658.2 1285,655.8" fill="none" stroke="#ff0000" stroke-width="2"/>
</g>
<g shape-rendering="crispEdges">
<line x1="5" y1="751.5" x2="1641" y2="751.5" stroke="#000" stroke-width="1" stroke-dasharray="3,3" stroke-dashoffset="-1"/>
<line x1="5" y1="783.5" x2="1641" y2="783.5" stroke="#000" stroke-width="1" stroke-dasharray="3,3" stroke-dashoffset="-1"/>
<line x1="5" y1="821.5" x2="1641" y2="821.5" stroke="#000" stroke-width="1" stroke-dasharray="3,3" stroke-dashoffset="-1"/>
<polyline points="5,779.7 21,774.9 37,776.3 53,781.9 69,778.9 85,784.0 101,772.9 117,777.7 133,778.7 149,778.7 165,776.7 181,773.3 197,769.7 213,766.9 229,767.7 245,767.3 261,766.9 277,765.8 293,784.0 309,784.0 325,785.5 341,785.8 357,785.8 373,789.8 389,787.8 405,778.9 421,778.9 437,779.7 453,777.9 469,778.9 485,778.9 501,780.9 517,781.3 533,786.4 549,792.0 565,792.0 581,801.9 597,801.9 613,801.9 629,802.5 645,806.1 661,795.8 677,795.8 693,793.0 709,790.4 725,818.0 741,819.0 757,819.0 773,822.2 789,815.5 805,809.5 821,809.5 837,809.5 853,813.9 869,811.1 885,811.1 901,809.1 917,808.5 933,806.5 949,810.9 965,810.9 981,807.9 997,807.5 1013,800.9 1029,800.9 1045,796.8 1061,796.8 1077,797.8 1093,792.4 1109,789.4 1125,789.0 1141,791.8 1157,791.8 1173,789.0 1189,789.0 1205,779.7 1221,779.7 1237,776.3 1253,776.3 1269,776.3 1285,775.9" fill="none" stroke="#1e90ff" stroke-width="2"/>
</g>
<g shape-rendering="crispEdges" fill="#000">
<rect x="4" y="27" width="1638" height="1"/>
<rect x="4" y="610" width="1638" height="1"/>
<rect x="4" y="612" width="1638" height="1"/>
<rect x="4" y="726" width="1638" height="1"/>
<rect x="4" y="728" width="1638" height="1"/>
<rect x="4" y="838" width="1638" height="1"/>
<rect x="4" y="27" width="1" height="584"/>
<rect x="1641" y="27" width="1" height="584"/>
<rect x="4" y="612" width="1" height="115"/>
<rect x="1641" y="612" width="1" height="115"/>
<rect x="4" y="728" width="1" height="111"/>
<rect x="1641" y="728" width="1" height="111"/>
<rect x="1642" y="46" width="2" height="1"/>
<rect x="1642" y="79" width="2" height="1"/>
<rect x="1642" y="112" width="2" height="1"/>
<rect x="1642" y="145" width="2" height="1"/>
<rect x="1642" y="178" width="2" height="1"/>
<rect x="1642" y="211" width="2" height="1"/>
<rect x="1642" y="244" width="2" height="1"/>
<rect x="1642" y="277" width="2" height="1"/>
<rect x="1642" y="310" width="2" height="1"/>
<rect x="1642" y="343" width="2" height="1"/>
<rect x="1642" y="376" width="2" height="1"/>
<rect x="1642" y="409" width="2" height="1"/>
<rect x="1642" y="442" width="2" height="1"/>
<rect x="1642" y="475" width="2" height="1"/>
<rect x="1642" y="508" width="2" height="1"/>
<rect x="1642" y="541" width="2" height="1"/>
<rect x="1642" y="574" width="2" height="1"/>
<rect x="1642" y="607" width="2" height="1"/>
<rect x="1642" y="643" width="2" height="1"/>
<rect x="1642" y="614" width="1" height="1"/>
<rect x="1642" y="725" width="1" height="1"/>
<rect x="1642" y="730" width="1" height="1"/>
<rect x="5" y="839" width="1" height="3"/>
<rect x="69" y="839" width="1" height="3"/>
<rect x="133" y="839" width="1" height="3"/>
<rect x="197" y="839" width="1" height="3"/>
<rect x="261" y="839" width="1" height="3"/>
<rect x="325" y="839" width="1" height="3"/>
<rect x="389" y="839" width="1" height="3"/>
<rect x="453" y="839" width="1" height="3"/>
<rect x="517" y="839" width="1" height="3"/>
<rect x="581" y="839" width="1" height="3"/>
<rect x="645" y="839" width="1" height="3"/>
<rect x="709" y="839" width="1" height="3"/>
<rect x="773" y="839" width="1" height="3"/>
<rect x="837" y="839" width="1" height="3"/>
<rect x="901" y="839" width="1" height="3"/>
<rect x="965" y="839" width="1" height="3"/>
<rect x="1029" y="839" width="1" height="3"/>
<rect x="1093" y="839" width="1" height="3"/>
<rect x="1157" y="839" width="1" height="3"/>
<rect x="1221" y="839" width="1" height="3"/>
<rect x="1285" y="839" width="1" height="3"/>
</g>
<polygon points="1307.5,28 1317.5,28 1312.5,33" fill="#000"/>
<polygon points="8,34 15,34 11.5,38" fill="#000"/>
<text x="1647" y="50" font-size="9.5" fill="#000" stroke="#000" stroke-width="0.1" letter-spacing="-0.2" text-anchor="start" >169.455</text>
<text x="1647" y="83" font-size="9.5" fill="#000" stroke="#000" stroke-width="0.1" letter-spacing="-0.2" text-anchor="start" >168.810</text>
<text x="1647" y="116" font-size="9.5" fill="#000" stroke="#000" stroke-width="0.1" letter-spacing="-0.2" text-anchor="start" >168.150</text>
<text x="1647" y="149" font-size="9.5" fill="#000" stroke="#000" stroke-width="0.1" letter-spacing="-0.2" text-anchor="start" >167.505</text>
<text x="1647" y="182" font-size="9.5" fill="#000" stroke="#000" stroke-width="0.1" letter-spacing="-0.2" text-anchor="start" >166.845</text>
<text x="1647" y="215" font-size="9.5" fill="#000" stroke="#000" stroke-width="0.1" letter-spacing="-0.2" text-anchor="start" >166.200</text>
<text x="1647" y="248" font-size="9.5" fill="#000" stroke="#000" stroke-width="0.1" letter-spacing="-0.2" text-anchor="start" >165.540</text>
<text x="1647" y="281" font-size="9.5" fill="#000" stroke="#000" stroke-width="0.1" letter-spacing="-0.2" text-anchor="start" >164.895</text>
<text x="1647" y="314" font-size="9.5" fill="#000" stroke="#000" stroke-width="0.1" letter-spacing="-0.2" text-anchor="start" >164.235</text>
<text x="1647" y="347" font-size="9.5" fill="#000" stroke="#000" stroke-width="0.1" letter-spacing="-0.2" text-anchor="start" >163.590</text>
<text x="1647" y="380" font-size="9.5" fill="#000" stroke="#000" stroke-width="0.1" letter-spacing="-0.2" text-anchor="start" >162.930</text>
<text x="1647" y="413" font-size="9.5" fill="#000" stroke="#000" stroke-width="0.1" letter-spacing="-0.2" text-anchor="start" >162.270</text>
<text x="1647" y="446" font-size="9.5" fill="#000" stroke="#000" stroke-width="0.1" letter-spacing="-0.2" text-anchor="start" >161.625</text>
<text x="1647" y="479" font-size="9.5" fill="#000" stroke="#000" stroke-width="0.1" letter-spacing="-0.2" text-anchor="start" >160.965</text>
<text x="1647" y="512" font-size="9.5" fill="#000" stroke="#000" stroke-width="0.1" letter-spacing="-0.2" text-anchor="start" >160.320</text>
<text x="1647" y="545" font-size="9.5" fill="#000" stroke="#000" stroke-width="0.1" letter-spacing="-0.2" text-anchor="start" >159.660</text>
<text x="1647" y="578" font-size="9.5" fill="#000" stroke="#000" stroke-width="0.1" letter-spacing="-0.2" text-anchor="start" >159.015</text>
<text x="1647" y="611" font-size="9.5" fill="#000" stroke="#000" stroke-width="0.1" letter-spacing="-0.2" text-anchor="start" >158.355</text>
<rect x="1643" y="375" width="41" height="11" fill="#ff0000" shape-rendering="crispEdges"/>
<text x="1647" y="384" font-size="9.5" fill="#fff" stroke="#fff" stroke-width="0.1" letter-spacing="-0.2" text-anchor="start" >162.835</text>
<rect x="1643" y="407" width="41" height="11" fill="#ff0000" shape-rendering="crispEdges"/>
<text x="1647" y="416" font-size="9.5" fill="#fff" stroke="#fff" stroke-width="0.1" letter-spacing="-0.2" text-anchor="start" >162.203</text>
<rect x="1643" y="440" width="41" height="11" fill="#000000" shape-rendering="crispEdges"/>
<text x="1647" y="449" font-size="9.5" fill="#fff" stroke="#fff" stroke-width="0.1" letter-spacing="-0.2" text-anchor="start" >161.573</text>
<rect x="1643" y="455" width="41" height="11" fill="#ff8c00" shape-rendering="crispEdges"/>
<text x="1647" y="464" font-size="9.5" fill="#fff" stroke="#fff" stroke-width="0.1" letter-spacing="-0.2" text-anchor="start" >161.254</text>
<rect x="1643" y="488" width="41" height="11" fill="#0000ff" shape-rendering="crispEdges"/>
<text x="1647" y="497" font-size="9.5" fill="#fff" stroke="#fff" stroke-width="0.1" letter-spacing="-0.2" text-anchor="start" >160.602</text>
<rect x="1643" y="522" width="41" height="11" fill="#0000ff" shape-rendering="crispEdges"/>
<text x="1647" y="531" font-size="9.5" fill="#fff" stroke="#fff" stroke-width="0.1" letter-spacing="-0.2" text-anchor="start" >159.930</text>
<text x="20" y="39" font-size="9.5" fill="#000" stroke="#000" stroke-width="0.1" letter-spacing="-0.12" text-anchor="start" >GBPJPY-,H4&#160;&#160;161.608 161.687 161.551 161.573</text>
<text x="9" y="625" font-size="9.5" fill="#000" stroke="#000" stroke-width="0.1" letter-spacing="-0.1" text-anchor="start" >MACD(12,26,9) -0.0000 -0.3081</text>
<text x="1645" y="623" font-size="9.5" fill="#000" stroke="#000" stroke-width="0.1" letter-spacing="-0.2" text-anchor="start" >0.7369</text>
<text x="1645" y="647" font-size="9.5" fill="#000" stroke="#000" stroke-width="0.1" letter-spacing="-0.2" text-anchor="start" >0.00</text>
<text x="1645" y="723" font-size="9.5" fill="#000" stroke="#000" stroke-width="0.1" letter-spacing="-0.2" text-anchor="start" >-2.0821</text>
<text x="9" y="741" font-size="9.5" fill="#000" stroke="#000" stroke-width="0.1" letter-spacing="-0.1" text-anchor="start" >RSI(14) 57.1780</text>
<text x="1645" y="739" font-size="9.5" fill="#000" stroke="#000" stroke-width="0.1" letter-spacing="-0.2" text-anchor="start" >100</text>
<text x="1644" y="755" font-size="9.5" fill="#000" stroke="#000" stroke-width="0.1" letter-spacing="-0.2" text-anchor="start" >80</text>
<text x="1644" y="787" font-size="9.5" fill="#000" stroke="#000" stroke-width="0.1" letter-spacing="-0.2" text-anchor="start" >50</text>
<text x="1644" y="825" font-size="9.5" fill="#000" stroke="#000" stroke-width="0.1" letter-spacing="-0.2" text-anchor="start" >15</text>
<text x="1644" y="835" font-size="9.5" fill="#000" stroke="#000" stroke-width="0.1" letter-spacing="-0.2" text-anchor="start" >0</text>
<text x="4" y="851" font-size="9.5" fill="#000" stroke="#000" stroke-width="0.1" letter-spacing="-0.2" text-anchor="start" >8 Dec 2022</text>
<text x="68" y="851" font-size="9.5" fill="#000" stroke="#000" stroke-width="0.1" letter-spacing="-0.2" text-anchor="start" >9 Dec 04:00</text>
<text x="132" y="851" font-size="9.5" fill="#000" stroke="#000" stroke-width="0.1" letter-spacing="-0.2" text-anchor="start" >11 Dec 23:00</text>
<text x="196" y="851" font-size="9.5" fill="#000" stroke="#000" stroke-width="0.1" letter-spacing="-0.2" text-anchor="start" >12 Dec 12:00</text>
<text x="260" y="851" font-size="9.5" fill="#000" stroke="#000" stroke-width="0.1" letter-spacing="-0.2" text-anchor="start" >13 Dec 04:00</text>
<text x="324" y="851" font-size="9.5" fill="#000" stroke="#000" stroke-width="0.1" letter-spacing="-0.2" text-anchor="start" >13 Dec 20:00</text>
<text x="388" y="851" font-size="9.5" fill="#000" stroke="#000" stroke-width="0.1" letter-spacing="-0.2" text-anchor="start" >14 Dec 12:00</text>
<text x="452" y="851" font-size="9.5" fill="#000" stroke="#000" stroke-width="0.1" letter-spacing="-0.2" text-anchor="start" >15 Dec 04:00</text>
<text x="516" y="851" font-size="9.5" fill="#000" stroke="#000" stroke-width="0.1" letter-spacing="-0.2" text-anchor="start" >15 Dec 20:00</text>
<text x="580" y="851" font-size="9.5" fill="#000" stroke="#000" stroke-width="0.1" letter-spacing="-0.2" text-anchor="start" >16 Dec 12:00</text>
<text x="644" y="851" font-size="9.5" fill="#000" stroke="#000" stroke-width="0.1" letter-spacing="-0.2" text-anchor="start" >19 Dec 04:00</text>
<text x="708" y="851" font-size="9.5" fill="#000" stroke="#000" stroke-width="0.1" letter-spacing="-0.2" text-anchor="start" >19 Dec 20:00</text>
<text x="772" y="851" font-size="9.5" fill="#000" stroke="#000" stroke-width="0.1" letter-spacing="-0.2" text-anchor="start" >20 Dec 12:00</text>
<text x="836" y="851" font-size="9.5" fill="#000" stroke="#000" stroke-width="0.1" letter-spacing="-0.2" text-anchor="start" >21 Dec 04:00</text>
<text x="900" y="851" font-size="9.5" fill="#000" stroke="#000" stroke-width="0.1" letter-spacing="-0.2" text-anchor="start" >21 Dec 20:00</text>
<text x="964" y="851" font-size="9.5" fill="#000" stroke="#000" stroke-width="0.1" letter-spacing="-0.2" text-anchor="start" >22 Dec 12:00</text>
<text x="1028" y="851" font-size="9.5" fill="#000" stroke="#000" stroke-width="0.1" letter-spacing="-0.2" text-anchor="start" >23 Dec 04:00</text>
<text x="1092" y="851" font-size="9.5" fill="#000" stroke="#000" stroke-width="0.1" letter-spacing="-0.2" text-anchor="start" >26 Dec 23:00</text>
<text x="1156" y="851" font-size="9.5" fill="#000" stroke="#000" stroke-width="0.1" letter-spacing="-0.2" text-anchor="start" >27 Dec 12:00</text>
<text x="1220" y="851" font-size="9.5" fill="#000" stroke="#000" stroke-width="0.1" letter-spacing="-0.2" text-anchor="start" >28 Dec 04:00</text>
<text x="1284" y="851" font-size="9.5" fill="#000" stroke="#000" stroke-width="0.1" letter-spacing="-0.2" text-anchor="start" >28 Dec 20:00</text>
</svg>
</body></html>
